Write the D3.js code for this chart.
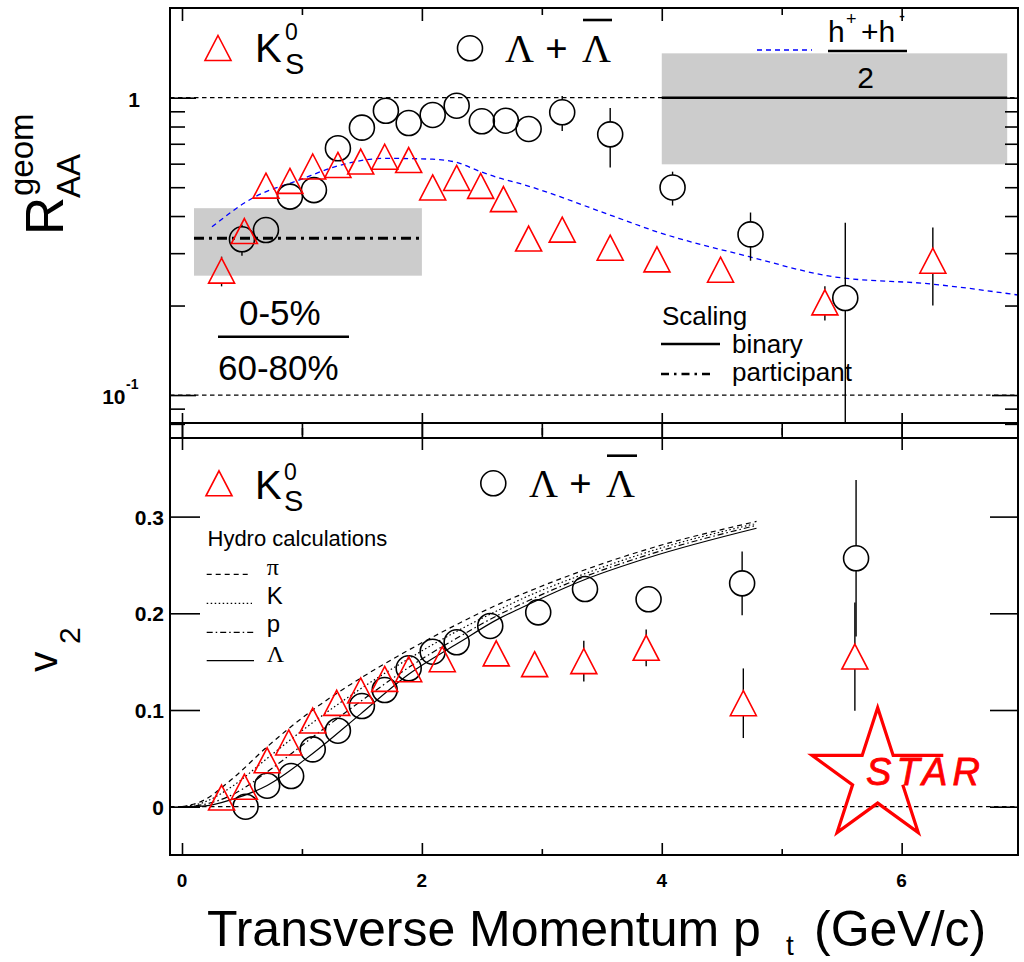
<!DOCTYPE html>
<html>
<head>
<meta charset="utf-8">
<script src="https://cdn.jsdelivr.net/npm/d3@7"></script>
<style>
  body { margin: 0; background: #fff; }
  svg { display: block; }
  text { font-family: "Liberation Sans", Arial, Helvetica, sans-serif; }
  .serif { font-family: "Liberation Serif", "Times New Roman", serif; }
</style>
</head>
<body>
<script>
// ---------- data: nuclear modification factor (upper panel) ----------
const ptKs_raa  = [0.33,0.52,0.70,0.90,1.09,1.30,1.49,1.69,1.89,2.09,2.29,2.49,2.68,2.89,3.17,3.57,3.96,4.49,5.36,6.26];
const raaKs     = [0.262,0.356,0.506,0.525,0.587,0.594,0.610,0.633,0.617,0.499,0.537,0.505,0.456,0.336,0.360,0.313,0.286,0.264,0.205,0.283];
const raaKsErr  = [0.030,0.02,0.015,0.015,0.015,0.015,0.015,0.015,0.015,0.015,0.015,0.015,0.015,0.015,0.02,0.02,0.02,0.02,0.027,0.083];

const ptLam_raa = [0.50,0.70,0.90,1.10,1.30,1.50,1.70,1.89,2.09,2.29,2.50,2.70,2.89,3.17,3.57,4.09,4.74,5.53];
const raaLam    = [0.334,0.359,0.465,0.489,0.676,0.793,0.904,0.822,0.875,0.940,0.833,0.837,0.785,0.893,0.753,0.499,0.347,0.212];
const raaLamErr = [0.040,0.02,0.02,0.02,0.03,0.03,0.03,0.03,0.03,0.03,0.03,0.05,0.07,0.12,0.17,0.065,0.064,0.168];

// charged hadrons (h+ + h-)/2
const ptHad  = [0.25,0.59,0.98,1.30,1.69,2.09,2.29,2.49,2.65,2.79,3.57,3.96,4.73,5.43,6.26,6.97];
const raaHad = [0.368,0.460,0.529,0.590,0.625,0.621,0.606,0.564,0.536,0.518,0.403,0.354,0.292,0.250,0.236,0.217];

// scaling expectations: [pt from, pt to, low, central, high]
const participantBand = [0.1, 2.0, 0.252, 0.337, 0.425];
const binaryBand      = [4.0, 6.88, 0.597, 1.0, 1.41];

// ---------- data: elliptic flow (lower panel) ----------
const ptKs_v2  = [0.33,0.52,0.71,0.89,1.09,1.29,1.49,1.69,1.89,2.17,2.62,2.94,3.35,3.87,4.68,5.61];
const v2Ks     = [0.0095,0.0207,0.048,0.0664,0.0891,0.1074,0.1202,0.1322,0.1422,0.1525,0.1586,0.1474,0.1505,0.1643,0.107,0.1553];
const v2KsErr  = [0.003,0.003,0.003,0.003,0.003,0.003,0.004,0.004,0.004,0.005,0.006,0.008,0.021,0.019,0.036,0.056];

const ptLam_v2 = [0.53,0.71,0.91,1.09,1.30,1.50,1.69,1.89,2.09,2.29,2.57,2.97,3.36,3.89,4.67,5.62];
const v2Lam    = [0.0,0.0217,0.0317,0.0593,0.0786,0.1041,0.1207,0.1431,0.1603,0.170,0.1869,0.201,0.2251,0.2145,0.231,0.2569];
const v2LamErr = [0.003,0.003,0.003,0.003,0.003,0.004,0.004,0.004,0.005,0.005,0.006,0.007,0.008,0.010,0.033,0.081];

// hydrodynamic calculations
const ptHydro    = [0,0.17,0.43,0.71,1.09,1.49,1.89,2.3,2.65,2.8,3.36,3.9,4.79];
const hydroPion  = [0,0.006,0.030,0.062,0.100,0.133,0.162,0.189,0.210,0.218,0.245,0.267,0.295];
const hydroKaon  = [0,0.004,0.022,0.050,0.087,0.122,0.153,0.182,0.204,0.213,0.241,0.264,0.293];
const hydroProton= [0,0.002,0.013,0.036,0.072,0.109,0.144,0.175,0.199,0.208,0.238,0.261,0.291];
const hydroLambda= [0,0.0005,0.008,0.022,0.055,0.096,0.137,0.169,0.195,0.204,0.235,0.258,0.288];

const xTicksMajor = [0,2,4,6];
const xTicksMinor = [1,3,5];
const raaMinor = [0.08,0.09,0.2,0.3,0.4,0.5,0.6,0.7,0.8,0.9];
const v2Ticks = [0,0.1,0.2,0.3];
const v2TickLabels = ["0","0.1","0.2","0.3"];

// ---------- layout ----------
const L = 170, R = 1018;
const topY0 = 8, topY1 = 438;
const botY0 = 423, botY1 = 855;
const RED = "#ff0000", BLUE = "#0000ff";

const x  = d3.scaleLinear().domain([-0.1, 6.97]).range([L, R]);
const yT = d3.scaleLog().domain([0.0717, 2.003]).range([topY1, topY0]);
const yB = d3.scaleLinear().domain([-0.04995, 0.3968]).range([botY1, botY0]);

const svg = d3.select("body").append("svg").attr("width", 1024).attr("height", 962);
const defs = svg.append("defs");
defs.append("clipPath").attr("id", "clipTop").append("rect")
  .attr("x", L).attr("y", topY0).attr("width", R - L).attr("height", botY0 - topY0);
defs.append("clipPath").attr("id", "clipBot").append("rect")
  .attr("x", L).attr("y", botY0).attr("width", R - L).attr("height", botY1 - botY0);

const HALF = 12.5;
const triPath = (cx, cy) => `M${cx},${cy - HALF}L${cx + 13},${cy + HALF}L${cx - 13},${cy + HALF}Z`;

function drawPoints(g, pts, vals, errs, ys, kind, isLog) {
  const data = pts.map((p, i) => ({ p, v: vals[i], e: errs[i] }));
  // error bars, interrupted by the marker
  data.forEach(d => {
    const cx = x(d.p), cy = ys(d.v);
    const lo = d.v - d.e;
    const yHi = ys(d.v + d.e);
    const yLo = (!isLog || lo > 0) ? ys(lo) : 2000;
    if (yHi < cy - HALF) g.append("line").attr("x1", cx).attr("x2", cx).attr("y1", yHi).attr("y2", cy - HALF)
      .attr("stroke", "#000").attr("stroke-width", 1.4);
    if (yLo > cy + HALF) g.append("line").attr("x1", cx).attr("x2", cx).attr("y1", cy + HALF).attr("y2", yLo)
      .attr("stroke", "#000").attr("stroke-width", 1.4);
  });
  if (kind === "tri") {
    g.selectAll(null).data(data).join("path")
      .attr("d", d => triPath(x(d.p), ys(d.v)))
      .attr("fill", "none").attr("stroke", RED).attr("stroke-width", 1.6);
  } else {
    g.selectAll(null).data(data).join("circle")
      .attr("cx", d => x(d.p)).attr("cy", d => ys(d.v)).attr("r", HALF)
      .attr("fill", "none").attr("stroke", "#000").attr("stroke-width", 1.6);
  }
}

function hline(g, x1, x2, y, opts) {
  const l = g.append("line").attr("x1", x1).attr("x2", x2).attr("y1", y).attr("y2", y)
    .attr("stroke", opts.color || "#000").attr("stroke-width", opts.w || 1);
  if (opts.dash) l.attr("stroke-dasharray", opts.dash);
  return l;
}

// ================= upper panel =================
const gT = svg.append("g");
const gTc = gT.append("g").attr("clip-path", "url(#clipTop)");

// scaling bands
gTc.append("rect").attr("x", x(participantBand[0])).attr("width", x(participantBand[1]) - x(participantBand[0]))
  .attr("y", yT(participantBand[4])).attr("height", yT(participantBand[2]) - yT(participantBand[4]))
  .attr("fill", "#cccccc");
gTc.append("rect").attr("x", x(binaryBand[0])).attr("width", x(binaryBand[1]) - x(binaryBand[0]))
  .attr("y", yT(binaryBand[4])).attr("height", yT(binaryBand[2]) - yT(binaryBand[4]))
  .attr("fill", "#cccccc");

// reference lines at 1 and 0.1
hline(gTc, L, R, yT(1), { w: 1.2, dash: "4.5,3.5" });
hline(gTc, L, R, yT(0.1), { w: 1.2, dash: "4.5,3.5" });

// participant (dash-dot) and binary (solid) expectation
hline(gTc, x(participantBand[0]), x(participantBand[1]), yT(participantBand[3]), { w: 3, dash: "10,5,3,5" });
hline(gTc, x(binaryBand[0]), x(binaryBand[1]), yT(binaryBand[3]), { w: 2.6 });

// charged hadrons
gTc.append("path")
  .attr("d", d3.line().x(d => x(d[0])).y(d => yT(d[1])).curve(d3.curveMonotoneX)(ptHad.map((p, i) => [p, raaHad[i]])))
  .attr("fill", "none").attr("stroke", BLUE).attr("stroke-width", 1.3).attr("stroke-dasharray", "5,4");

drawPoints(gTc, ptLam_raa, raaLam, raaLamErr, yT, "circ", true);
drawPoints(gTc, ptKs_raa, raaKs, raaKsErr, yT, "tri", true);

// frame and ticks
gT.append("rect").attr("x", L).attr("y", topY0).attr("width", R - L).attr("height", topY1 - topY0)
  .attr("fill", "none").attr("stroke", "#000").attr("stroke-width", 2);

function tickAxis(g, axis, tx, ty) {
  const a = g.append("g").attr("transform", `translate(${tx},${ty})`).call(axis);
  a.select(".domain").remove();
  a.selectAll(".tick line").attr("stroke", "#000").attr("stroke-width", 1.6);
  a.selectAll(".tick text").remove();
  return a;
}
tickAxis(gT, d3.axisTop(x).tickValues(xTicksMajor).tickSize(-13), 0, topY0);
tickAxis(gT, d3.axisTop(x).tickValues(xTicksMinor).tickSize(-7), 0, topY0);
tickAxis(gT, d3.axisBottom(x).tickValues(xTicksMajor).tickSize(-25), 0, topY1);
tickAxis(gT, d3.axisBottom(x).tickValues(xTicksMinor).tickSize(-10), 0, topY1);
tickAxis(gT, d3.axisLeft(yT).tickValues([0.1, 1]).tickSize(-26), L, 0);
tickAxis(gT, d3.axisLeft(yT).tickValues(raaMinor).tickSize(-15), L, 0);
tickAxis(gT, d3.axisRight(yT).tickValues([0.1, 1]).tickSize(-26), R, 0);
tickAxis(gT, d3.axisRight(yT).tickValues(raaMinor).tickSize(-13), R, 0);

// y tick labels (log)
gT.append("text").attr("x", 140).attr("y", yT(1) + 9.5).attr("text-anchor", "end")
  .attr("font-size", 21).attr("font-weight", "bold").text("1");
gT.append("text").attr("x", 125.5).attr("y", yT(0.1) + 9).attr("text-anchor", "end")
  .attr("font-size", 21).attr("font-weight", "bold").text("10");
gT.append("text").attr("x", 126).attr("y", yT(0.1) - 6).attr("font-size", 14).attr("font-weight", "bold").text("-1");

// y title R_AA^geom
gT.append("text").attr("transform", "translate(63,235) rotate(-90)").attr("font-size", 53).text("R");
gT.append("text").attr("transform", "translate(33,196) rotate(-90)").attr("font-size", 33).text("geom");
gT.append("text").attr("transform", "translate(80,198) rotate(-90)").attr("font-size", 33).text("AA");

// legend (species)
gT.append("path").attr("d", triPath(218, 48)).attr("fill", "none").attr("stroke", RED).attr("stroke-width", 1.6);
gT.append("text").attr("x", 255).attr("y", 61.7).attr("font-size", 40).text("K");
gT.append("text").attr("x", 285).attr("y", 40).attr("font-size", 23).text("0");
gT.append("text").attr("x", 285).attr("y", 74).attr("font-size", 29).text("S");
gT.append("circle").attr("cx", 470).attr("cy", 48.3).attr("r", HALF).attr("fill", "none").attr("stroke", "#000").attr("stroke-width", 1.6);
gT.append("text").attr("class", "serif").attr("x", 505).attr("y", 61.7).attr("font-size", 40).text("Λ");
gT.append("text").attr("class", "serif").attr("x", 545).attr("y", 61.7).attr("font-size", 40).attr("font-weight", "bold").text("+");
gT.append("text").attr("class", "serif").attr("x", 582).attr("y", 61.7).attr("font-size", 40).text("Λ");
hline(gT, 583, 612, 20, { w: 2.6 });

// legend (charged hadrons)
hline(gT, 757, 812, 50, { color: BLUE, w: 1.3, dash: "5,4" });
gT.append("text").attr("x", 828).attr("y", 41.7).attr("font-size", 30).text("h");
gT.append("text").attr("x", 846).attr("y", 25).attr("font-size", 18).text("+");
gT.append("text").attr("x", 861).attr("y", 41.7).attr("font-size", 30).text("+h");
gT.append("text").attr("x", 899).attr("y", 22).attr("font-size", 18).text("-");
hline(gT, 828, 907, 51, { w: 2.6 });
gT.append("text").attr("x", 865.5).attr("y", 88.3).attr("text-anchor", "middle").attr("font-size", 30).text("2");

// centrality ratio
gT.append("text").attr("x", 239).attr("y", 325).attr("font-size", 35).text("0-5%");
hline(gT, 218, 349, 336.7, { w: 2.6 });
gT.append("text").attr("x", 218).attr("y", 380).attr("font-size", 35).text("60-80%");

// scaling legend
gT.append("text").attr("x", 662).attr("y", 325).attr("font-size", 26).text("Scaling");
hline(gT, 661, 720, 344, { w: 2.6 });
gT.append("text").attr("x", 732).attr("y", 352.7).attr("font-size", 26).text("binary");
hline(gT, 661, 713, 374, { w: 2.6, dash: "8,5,2.5,5" });
gT.append("text").attr("x", 732).attr("y", 380.7).attr("font-size", 26).text("participant");

// ================= lower panel =================
const gB = svg.append("g");
const gBc = gB.append("g").attr("clip-path", "url(#clipBot)");

hline(gBc, L, R, yB(0), { w: 1.2, dash: "4.5,3.5" });

const hydro = [
  { v: hydroPion,   dash: "5,4" },
  { v: hydroKaon,   dash: "1.5,2.5" },
  { v: hydroProton, dash: "6,3,1.5,3" },
  { v: hydroLambda, dash: null }
];
const hLine = d3.line().x(d => x(d[0])).y(d => yB(d[1])).curve(d3.curveMonotoneX);
hydro.forEach(h => {
  const p = gBc.append("path").attr("d", hLine(ptHydro.map((pt, i) => [pt, h.v[i]])))
    .attr("fill", "none").attr("stroke", "#000").attr("stroke-width", 1.2);
  if (h.dash) p.attr("stroke-dasharray", h.dash);
});

drawPoints(gBc, ptLam_v2, v2Lam, v2LamErr, yB, "circ", false);
drawPoints(gBc, ptKs_v2, v2Ks, v2KsErr, yB, "tri", false);

gB.append("rect").attr("x", L).attr("y", botY0).attr("width", R - L).attr("height", botY1 - botY0)
  .attr("fill", "none").attr("stroke", "#000").attr("stroke-width", 2);

tickAxis(gB, d3.axisTop(x).tickValues(xTicksMajor).tickSize(-27), 0, botY0);
tickAxis(gB, d3.axisTop(x).tickValues(xTicksMinor).tickSize(-12), 0, botY0);
tickAxis(gB, d3.axisBottom(x).tickValues(xTicksMajor).tickSize(-12), 0, botY1);
tickAxis(gB, d3.axisBottom(x).tickValues(xTicksMinor).tickSize(-6), 0, botY1);
tickAxis(gB, d3.axisLeft(yB).tickValues(v2Ticks).tickSize(-30), L, 0);
tickAxis(gB, d3.axisRight(yB).tickValues(v2Ticks).tickSize(-28), R, 0);

// tick labels
gB.selectAll(null).data(v2Ticks).join("text")
  .attr("x", 164).attr("y", d => yB(d) + 8).attr("text-anchor", "end")
  .attr("font-size", 21).attr("font-weight", "bold").text((d, i) => v2TickLabels[i]);
gB.selectAll(null).data(xTicksMajor).join("text")
  .attr("x", d => x(d)).attr("y", 887).attr("text-anchor", "middle")
  .attr("font-size", 19).attr("font-weight", "bold").text(d => d);

// y title v_2
gB.append("text").attr("transform", "translate(57,672) rotate(-90)").attr("font-size", 41).text("v");
gB.append("text").attr("transform", "translate(80,644) rotate(-90)").attr("font-size", 30).text("2");

// x title
gB.append("text").attr("x", 207).attr("y", 946).attr("font-size", 50).text("Transverse Momentum p");
gB.append("text").attr("x", 786).attr("y", 955).attr("font-size", 28).text("t");
gB.append("text").attr("x", 814).attr("y", 946).attr("font-size", 50).text("(GeV/c)");

// legend (species)
gB.append("path").attr("d", triPath(219, 483.3)).attr("fill", "none").attr("stroke", RED).attr("stroke-width", 1.6);
gB.append("text").attr("x", 255).attr("y", 499.3).attr("font-size", 40).text("K");
gB.append("text").attr("x", 284).attr("y", 480).attr("font-size", 23).text("0");
gB.append("text").attr("x", 284).attr("y", 510.7).attr("font-size", 29).text("S");
gB.append("circle").attr("cx", 493.3).attr("cy", 483.3).attr("r", HALF).attr("fill", "none").attr("stroke", "#000").attr("stroke-width", 1.6);
gB.append("text").attr("class", "serif").attr("x", 529).attr("y", 497.3).attr("font-size", 40).text("Λ");
gB.append("text").attr("class", "serif").attr("x", 569).attr("y", 497.3).attr("font-size", 40).attr("font-weight", "bold").text("+");
gB.append("text").attr("class", "serif").attr("x", 606).attr("y", 497.3).attr("font-size", 40).text("Λ");
hline(gB, 607, 637, 455.7, { w: 2.6 });

// legend (hydro)
gB.append("text").attr("x", 207.5).attr("y", 546).attr("font-size", 22).text("Hydro calculations");
const hydroLegend = [
  { y: 574.3, x2: 249, dash: "5,4", label: "π", serif: true },
  { y: 603.3, x2: 252, dash: "1.5,2.5", label: "K", serif: false },
  { y: 632.3, x2: 255, dash: "6,3,1.5,3", label: "p", serif: false },
  { y: 660.7, x2: 254, dash: null, label: "Λ", serif: true }
];
hydroLegend.forEach(h => {
  hline(gB, 206.7, h.x2, h.y, { w: 1.2, dash: h.dash });
  const t = gB.append("text").attr("x", 266.7).attr("y", h.y + (h.label === "p" ? 0 : 1)).attr("font-size", 24).text(h.label);
  if (h.serif) t.attr("class", "serif");
});

// STAR logo
const sc = [x(5.8), yB(0.031)], sR = 69, sr = sR * 0.382;
const starPts = d3.range(10).map(i => {
  const a = -Math.PI / 2 + i * Math.PI / 5;
  const rr = i % 2 === 0 ? sR : sr;
  return [sc[0] + rr * Math.cos(a), sc[1] + rr * Math.sin(a)];
});
// outline starting after the edge hidden behind the lettering
const order = [3, 4, 5, 6, 7, 8, 9, 0, 1, 2];
gB.append("path")
  .attr("d", d3.line()(order.map(i => starPts[i])))
  .attr("fill", "none").attr("stroke", RED).attr("stroke-width", 3.2).attr("stroke-linejoin", "miter");
gB.append("text").attr("x", 866).attr("y", 785).attr("font-size", 38).attr("font-style", "italic")
  .attr("fill", RED).attr("stroke", RED).attr("stroke-width", 0.8)
  .attr("textLength", 114).attr("lengthAdjust", "spacing").text("STAR");
</script>
</body>
</html>
